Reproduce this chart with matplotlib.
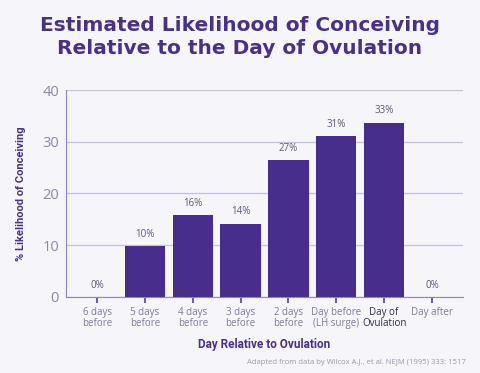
import matplotlib
matplotlib.use("Agg")
import matplotlib.pyplot as plt

# Data
days = ["6 days\nbefore", "5 days\nbefore", "4 days\nbefore", "3 days\nbefore",
        "2 days\nbefore", "Day before\n(LH surge)", "Day of\nOvulation", "Day after"]
likelihood = [0, 9.9, 15.8, 14.2, 26.5, 31.1, 33.7, 0]
value_labels = ["0%", "10%", "16%", "14%", "27%", "31%", "33%", "0%"]
y_ticks = [0, 10, 20, 30, 40]

PURPLE = "#472d8c"
TITLE = "#4a3088"
GRID = "#c9c4dc"
TICK_TEXT = "#7d7a9c"

plt.rcParams["font.family"] = ["Open Sans", "DejaVu Sans"]

fig = plt.figure(figsize=(4.8, 3.73), dpi=100, facecolor="#f6f5f9")
ax = fig.add_axes([0.1375, 0.2038, 0.8271, 0.5549])
ax.set_facecolor("#f6f5f9")

x = list(range(len(days)))
ax.bar(x, likelihood, width=0.84, color=PURPLE, zorder=3)

for xi, v, lab in zip(x, likelihood, value_labels):
    ax.text(xi, v + 1.2, lab, ha="center", va="bottom", fontsize=7,
            color="#5c5a78", zorder=4)

ax.set_xlim(-0.65, 7.65)
ax.set_ylim(0, 40)
ax.set_yticks(y_ticks)
ax.set_yticklabels([str(t) for t in y_ticks], fontsize=10.5, color="#8a88a4")
ax.yaxis.grid(True, color=GRID, linewidth=1.0, zorder=0)
ax.tick_params(axis="y", length=0, pad=5)

ax.set_xticks(x)
ax.set_xticklabels(days, fontsize=7, color=TICK_TEXT, linespacing=1.0)
ax.get_xticklabels()[6].set_color("#2e2a4a")
ax.tick_params(axis="x", length=4, width=1.5, color="#6a5fa0", pad=3)

for s in ["top", "right"]:
    ax.spines[s].set_visible(False)
ax.spines["left"].set_color("#8f86bd")
ax.spines["bottom"].set_color("#8f86bd")

ax.set_xlabel("Day Relative to Ovulation", fontsize=8.5, fontweight="bold",
              color=TITLE, family=["Roboto", "DejaVu Sans"], labelpad=7)
ax.set_ylabel("% Likelihood of Conceiving", fontsize=8, fontweight="bold",
              color=TITLE, family=["Roboto", "DejaVu Sans"], labelpad=12)

fig.text(0.5, 0.958, "Estimated Likelihood of Conceiving\nRelative to the Day of Ovulation",
         ha="center", va="top", fontsize=14.5, fontweight="bold", color=TITLE,
         family=["DejaVu Sans"], linespacing=1.3)
fig.text(0.97, 0.02, "Adapted from data by Wilcox A.J., et al. NEJM (1995) 333: 1517",
         ha="right", va="bottom", fontsize=5.5, color="#9a98ae")

fig.savefig("out.png", dpi=100, facecolor=fig.get_facecolor())
